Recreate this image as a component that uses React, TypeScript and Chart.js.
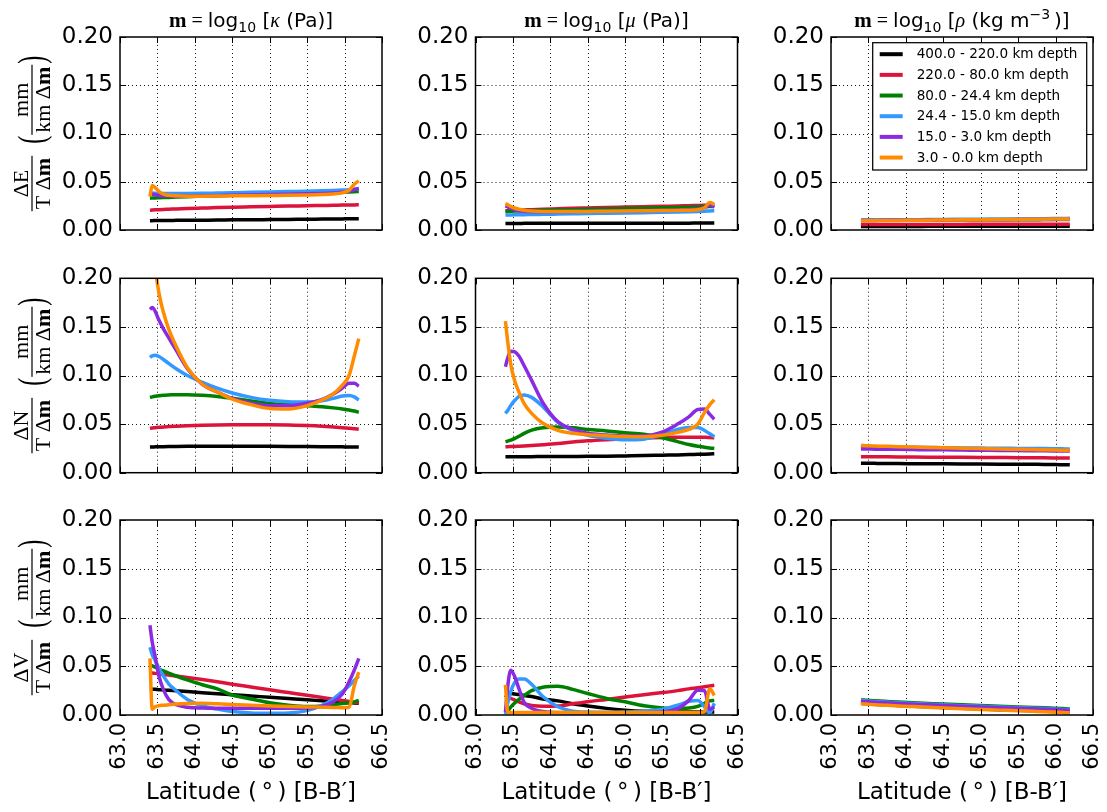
import React, { useEffect, useRef } from "react";
import { Chart, registerables } from "chart.js";
Chart.register(...registerables);

// ---------------- data ----------------
const LAT = [63.40, 63.43, 63.47, 63.52, 63.58, 63.65, 63.75, 63.90, 64.10, 64.30, 64.50, 64.75, 65.00, 65.25, 65.50, 65.70, 65.85, 65.97, 66.06, 66.13, 66.19];

const DEPTHS = [400.0, 220.0, 80.0, 24.4, 15.0, 3.0, 0.0];
const LEGEND_LABELS = DEPTHS.slice(0, -1).map((d, i) => `${d.toFixed(1)} - ${DEPTHS[i + 1].toFixed(1)} km depth`);
const COLORS = ["#000000", "#dc143c", "#008000", "#3399ff", "#8a2be2", "#ff8c00"];

const X_TICK_MIN = 63.0;
const X_TICK_MAX = 66.5;
const X_TICK_STEP = 0.5;
const Y_TICK_MIN = 0.0;
const Y_TICK_MAX = 0.2;
const Y_TICK_STEP = 0.05;

const COMPONENT_LETTERS = ["E", "N", "V"];
const PARAM_SYMBOLS = ["κ", "μ", "ρ"];

// rows: black, red, green, blue, purple, orange
const DE_KAPPA = [
  [0.0097, 0.0097, 0.0098, 0.0098, 0.0099, 0.0099, 0.0100, 0.0101, 0.0102, 0.0103, 0.0105, 0.0106, 0.0108, 0.0110, 0.0111, 0.0113, 0.0114, 0.0115, 0.0116, 0.0116, 0.0117],
  [0.0205, 0.0207, 0.0209, 0.0211, 0.0213, 0.0215, 0.0218, 0.0222, 0.0227, 0.0232, 0.0236, 0.0240, 0.0244, 0.0248, 0.0251, 0.0254, 0.0256, 0.0258, 0.0259, 0.0260, 0.0261],
  [0.0330, 0.0331, 0.0332, 0.0334, 0.0336, 0.0338, 0.0341, 0.0345, 0.0350, 0.0355, 0.0360, 0.0365, 0.0370, 0.0375, 0.0380, 0.0384, 0.0388, 0.0391, 0.0394, 0.0397, 0.0400],
  [0.0385, 0.0383, 0.0380, 0.0378, 0.0377, 0.0377, 0.0377, 0.0378, 0.0380, 0.0383, 0.0386, 0.0390, 0.0394, 0.0398, 0.0402, 0.0406, 0.0410, 0.0414, 0.0418, 0.0424, 0.0430],
  [0.0360, 0.0372, 0.0366, 0.0358, 0.0354, 0.0352, 0.0351, 0.0351, 0.0353, 0.0356, 0.0359, 0.0363, 0.0367, 0.0371, 0.0375, 0.0379, 0.0384, 0.0391, 0.0402, 0.0418, 0.0430],
  [0.0345, 0.0460, 0.0440, 0.0400, 0.0372, 0.0360, 0.0354, 0.0351, 0.0351, 0.0352, 0.0354, 0.0356, 0.0358, 0.0360, 0.0363, 0.0367, 0.0373, 0.0385, 0.0412, 0.0475, 0.0510],
];
const DE_MU = [
  [0.0068, 0.0068, 0.0068, 0.0068, 0.0068, 0.0069, 0.0069, 0.0069, 0.0069, 0.0070, 0.0070, 0.0070, 0.0070, 0.0071, 0.0071, 0.0071, 0.0071, 0.0072, 0.0072, 0.0072, 0.0072],
  [0.0200, 0.0201, 0.0202, 0.0204, 0.0206, 0.0208, 0.0211, 0.0215, 0.0220, 0.0225, 0.0229, 0.0234, 0.0238, 0.0242, 0.0246, 0.0249, 0.0252, 0.0254, 0.0256, 0.0258, 0.0260],
  [0.0190, 0.0192, 0.0194, 0.0196, 0.0198, 0.0200, 0.0202, 0.0205, 0.0208, 0.0211, 0.0214, 0.0218, 0.0222, 0.0226, 0.0230, 0.0233, 0.0236, 0.0239, 0.0241, 0.0243, 0.0245],
  [0.0155, 0.0155, 0.0156, 0.0157, 0.0158, 0.0159, 0.0160, 0.0162, 0.0165, 0.0168, 0.0171, 0.0174, 0.0177, 0.0180, 0.0183, 0.0186, 0.0189, 0.0192, 0.0195, 0.0198, 0.0200],
  [0.0250, 0.0240, 0.0226, 0.0212, 0.0202, 0.0195, 0.0191, 0.0190, 0.0191, 0.0193, 0.0195, 0.0198, 0.0200, 0.0202, 0.0205, 0.0208, 0.0212, 0.0218, 0.0232, 0.0258, 0.0240],
  [0.0275, 0.0262, 0.0245, 0.0228, 0.0215, 0.0205, 0.0197, 0.0192, 0.0191, 0.0192, 0.0193, 0.0195, 0.0197, 0.0199, 0.0201, 0.0203, 0.0205, 0.0210, 0.0232, 0.0285, 0.0265],
];
const DE_RHO = [
  [0.0036, 0.0036, 0.0036, 0.0036, 0.0036, 0.0037, 0.0037, 0.0037, 0.0037, 0.0038, 0.0038, 0.0038, 0.0038, 0.0039, 0.0039, 0.0039, 0.0039, 0.0040, 0.0040, 0.0040, 0.0040],
  [0.0056, 0.0056, 0.0056, 0.0056, 0.0057, 0.0057, 0.0057, 0.0057, 0.0058, 0.0058, 0.0058, 0.0058, 0.0059, 0.0059, 0.0059, 0.0059, 0.0060, 0.0060, 0.0060, 0.0060, 0.0060],
  [0.0100, 0.0100, 0.0100, 0.0101, 0.0101, 0.0101, 0.0102, 0.0102, 0.0103, 0.0103, 0.0104, 0.0105, 0.0105, 0.0106, 0.0107, 0.0107, 0.0108, 0.0108, 0.0109, 0.0109, 0.0110],
  [0.0102, 0.0102, 0.0103, 0.0103, 0.0104, 0.0104, 0.0105, 0.0106, 0.0107, 0.0108, 0.0110, 0.0111, 0.0112, 0.0114, 0.0115, 0.0116, 0.0117, 0.0118, 0.0119, 0.0120, 0.0121],
  [0.0098, 0.0098, 0.0098, 0.0099, 0.0099, 0.0100, 0.0100, 0.0101, 0.0102, 0.0103, 0.0104, 0.0105, 0.0106, 0.0107, 0.0108, 0.0109, 0.0110, 0.0110, 0.0111, 0.0111, 0.0112],
  [0.0095, 0.0095, 0.0096, 0.0096, 0.0097, 0.0098, 0.0098, 0.0099, 0.0101, 0.0102, 0.0104, 0.0105, 0.0107, 0.0108, 0.0110, 0.0111, 0.0112, 0.0113, 0.0114, 0.0114, 0.0115],
];
const DN_KAPPA = [
  [0.0265, 0.0265, 0.0266, 0.0267, 0.0268, 0.0269, 0.0270, 0.0271, 0.0272, 0.0272, 0.0272, 0.0272, 0.0271, 0.0270, 0.0269, 0.0268, 0.0267, 0.0266, 0.0265, 0.0265, 0.0264],
  [0.0457, 0.0460, 0.0463, 0.0467, 0.0471, 0.0474, 0.0478, 0.0483, 0.0488, 0.0491, 0.0493, 0.0494, 0.0493, 0.0490, 0.0485, 0.0478, 0.0470, 0.0463, 0.0457, 0.0452, 0.0448],
  [0.0775, 0.0780, 0.0786, 0.0792, 0.0797, 0.0800, 0.0803, 0.0803, 0.0797, 0.0785, 0.0765, 0.0738, 0.0712, 0.0700, 0.0688, 0.0678, 0.0667, 0.0656, 0.0645, 0.0635, 0.0622],
  [0.1187, 0.1203, 0.1208, 0.1195, 0.1165, 0.1125, 0.1070, 0.1000, 0.0930, 0.0870, 0.0820, 0.0775, 0.0745, 0.0730, 0.0727, 0.0740, 0.0765, 0.0790, 0.0795, 0.0780, 0.0748],
  [0.1680, 0.1700, 0.1660, 0.1570, 0.1480, 0.1390, 0.1260, 0.1070, 0.0910, 0.0830, 0.0765, 0.0715, 0.0690, 0.0690, 0.0715, 0.0755, 0.0810, 0.0870, 0.0920, 0.0920, 0.0890],
  [0.3000, 0.2500, 0.2120, 0.1850, 0.1650, 0.1480, 0.1300, 0.1080, 0.0910, 0.0830, 0.0758, 0.0700, 0.0660, 0.0655, 0.0690, 0.0750, 0.0810, 0.0900, 0.1000, 0.1200, 0.1380],
];
const DN_MU = [
  [0.0165, 0.0165, 0.0165, 0.0165, 0.0165, 0.0165, 0.0165, 0.0166, 0.0166, 0.0167, 0.0168, 0.0170, 0.0173, 0.0176, 0.0180, 0.0183, 0.0186, 0.0189, 0.0191, 0.0193, 0.0195],
  [0.0268, 0.0268, 0.0269, 0.0270, 0.0272, 0.0275, 0.0280, 0.0288, 0.0300, 0.0315, 0.0328, 0.0340, 0.0350, 0.0357, 0.0362, 0.0364, 0.0365, 0.0365, 0.0364, 0.0362, 0.0360],
  [0.0320, 0.0325, 0.0335, 0.0350, 0.0375, 0.0405, 0.0438, 0.0462, 0.0470, 0.0462, 0.0445, 0.0430, 0.0412, 0.0395, 0.0360, 0.0320, 0.0290, 0.0272, 0.0262, 0.0255, 0.0250],
  [0.0610, 0.0640, 0.0690, 0.0740, 0.0785, 0.0800, 0.0775, 0.0680, 0.0520, 0.0435, 0.0385, 0.0355, 0.0338, 0.0345, 0.0395, 0.0445, 0.0465, 0.0465, 0.0435, 0.0400, 0.0370],
  [0.1090, 0.1180, 0.1250, 0.1245, 0.1200, 0.1100, 0.0950, 0.0720, 0.0525, 0.0445, 0.0405, 0.0388, 0.0378, 0.0380, 0.0420, 0.0500, 0.0575, 0.0650, 0.0655, 0.0600, 0.0550],
  [0.1560, 0.1350, 0.1120, 0.0954, 0.0830, 0.0710, 0.0610, 0.0508, 0.0435, 0.0405, 0.0390, 0.0380, 0.0372, 0.0370, 0.0385, 0.0415, 0.0445, 0.0500, 0.0620, 0.0700, 0.0750],
];
const DN_RHO = [
  [0.0097, 0.0097, 0.0096, 0.0096, 0.0096, 0.0095, 0.0095, 0.0094, 0.0093, 0.0092, 0.0091, 0.0090, 0.0089, 0.0088, 0.0087, 0.0086, 0.0085, 0.0084, 0.0083, 0.0083, 0.0082],
  [0.0165, 0.0165, 0.0165, 0.0164, 0.0164, 0.0164, 0.0163, 0.0162, 0.0161, 0.0160, 0.0159, 0.0158, 0.0157, 0.0156, 0.0155, 0.0154, 0.0153, 0.0152, 0.0151, 0.0151, 0.0150],
  [0.0260, 0.0260, 0.0259, 0.0258, 0.0257, 0.0256, 0.0255, 0.0253, 0.0251, 0.0249, 0.0247, 0.0245, 0.0243, 0.0241, 0.0239, 0.0237, 0.0236, 0.0234, 0.0233, 0.0232, 0.0232],
  [0.0268, 0.0268, 0.0267, 0.0267, 0.0266, 0.0265, 0.0264, 0.0263, 0.0261, 0.0259, 0.0257, 0.0255, 0.0253, 0.0251, 0.0250, 0.0249, 0.0248, 0.0247, 0.0246, 0.0245, 0.0245],
  [0.0245, 0.0245, 0.0244, 0.0243, 0.0242, 0.0242, 0.0241, 0.0240, 0.0238, 0.0236, 0.0235, 0.0233, 0.0231, 0.0229, 0.0228, 0.0226, 0.0225, 0.0224, 0.0223, 0.0222, 0.0222],
  [0.0280, 0.0279, 0.0278, 0.0277, 0.0275, 0.0273, 0.0271, 0.0268, 0.0264, 0.0260, 0.0256, 0.0252, 0.0248, 0.0244, 0.0241, 0.0238, 0.0236, 0.0234, 0.0232, 0.0231, 0.0230],
];
const DV_KAPPA = [
  [0.0267, 0.0265, 0.0263, 0.0260, 0.0257, 0.0253, 0.0248, 0.0240, 0.0229, 0.0219, 0.0208, 0.0195, 0.0182, 0.0169, 0.0156, 0.0145, 0.0137, 0.0131, 0.0126, 0.0123, 0.0120],
  [0.0434, 0.0431, 0.0427, 0.0422, 0.0416, 0.0409, 0.0399, 0.0384, 0.0363, 0.0340, 0.0316, 0.0287, 0.0258, 0.0230, 0.0202, 0.0180, 0.0163, 0.0149, 0.0138, 0.0129, 0.0122],
  [0.0515, 0.0505, 0.0490, 0.0472, 0.0452, 0.0430, 0.0400, 0.0360, 0.0310, 0.0268, 0.0205, 0.0165, 0.0125, 0.0100, 0.0086, 0.0092, 0.0108, 0.0118, 0.0125, 0.0135, 0.0150],
  [0.0694, 0.0620, 0.0560, 0.0480, 0.0400, 0.0320, 0.0250, 0.0160, 0.0095, 0.0060, 0.0035, 0.0020, 0.0017, 0.0020, 0.0045, 0.0100, 0.0165, 0.0240, 0.0300, 0.0355, 0.0400],
  [0.0920, 0.0750, 0.0600, 0.0400, 0.0260, 0.0160, 0.0105, 0.0080, 0.0072, 0.0070, 0.0070, 0.0070, 0.0070, 0.0070, 0.0072, 0.0090, 0.0135, 0.0215, 0.0340, 0.0460, 0.0580],
  [0.0580, 0.0060, 0.0085, 0.0095, 0.0100, 0.0105, 0.0112, 0.0118, 0.0120, 0.0115, 0.0108, 0.0100, 0.0092, 0.0086, 0.0082, 0.0080, 0.0078, 0.0075, 0.0080, 0.0300, 0.0440],
];
const DV_MU = [
  [0.0180, 0.0210, 0.0220, 0.0215, 0.0210, 0.0200, 0.0190, 0.0165, 0.0145, 0.0115, 0.0092, 0.0068, 0.0050, 0.0038, 0.0032, 0.0030, 0.0030, 0.0030, 0.0030, 0.0030, 0.0030],
  [0.0190, 0.0180, 0.0170, 0.0155, 0.0135, 0.0115, 0.0098, 0.0090, 0.0092, 0.0115, 0.0137, 0.0160, 0.0185, 0.0208, 0.0230, 0.0250, 0.0268, 0.0280, 0.0290, 0.0298, 0.0305],
  [0.0020, 0.0040, 0.0080, 0.0120, 0.0160, 0.0200, 0.0250, 0.0285, 0.0295, 0.0263, 0.0220, 0.0170, 0.0135, 0.0095, 0.0072, 0.0068, 0.0072, 0.0088, 0.0120, 0.0145, 0.0150],
  [0.0010, 0.0120, 0.0240, 0.0330, 0.0370, 0.0370, 0.0315, 0.0190, 0.0085, 0.0040, 0.0030, 0.0028, 0.0030, 0.0038, 0.0060, 0.0100, 0.0140, 0.0150, 0.0085, 0.0020, 0.0120],
  [0.0030, 0.0290, 0.0460, 0.0400, 0.0270, 0.0130, 0.0070, 0.0035, 0.0025, 0.0022, 0.0022, 0.0022, 0.0022, 0.0024, 0.0030, 0.0065, 0.0150, 0.0255, 0.0250, 0.0060, 0.0080],
  [0.0310, 0.0026, 0.0025, 0.0025, 0.0025, 0.0025, 0.0025, 0.0025, 0.0025, 0.0025, 0.0025, 0.0025, 0.0025, 0.0025, 0.0025, 0.0025, 0.0025, 0.0025, 0.0035, 0.0270, 0.0200],
];
const DV_RHO = [
  [0.0120, 0.0119, 0.0117, 0.0114, 0.0111, 0.0108, 0.0104, 0.0098, 0.0091, 0.0084, 0.0077, 0.0069, 0.0062, 0.0055, 0.0048, 0.0043, 0.0039, 0.0036, 0.0033, 0.0031, 0.0030],
  [0.0128, 0.0127, 0.0125, 0.0122, 0.0119, 0.0116, 0.0112, 0.0106, 0.0099, 0.0092, 0.0085, 0.0077, 0.0070, 0.0063, 0.0056, 0.0051, 0.0047, 0.0044, 0.0041, 0.0039, 0.0038],
  [0.0155, 0.0154, 0.0152, 0.0149, 0.0146, 0.0143, 0.0139, 0.0133, 0.0126, 0.0119, 0.0112, 0.0104, 0.0097, 0.0090, 0.0083, 0.0078, 0.0074, 0.0070, 0.0067, 0.0064, 0.0062],
  [0.0147, 0.0146, 0.0144, 0.0141, 0.0138, 0.0135, 0.0131, 0.0125, 0.0118, 0.0111, 0.0104, 0.0096, 0.0089, 0.0082, 0.0075, 0.0070, 0.0066, 0.0062, 0.0059, 0.0056, 0.0054],
  [0.0140, 0.0139, 0.0137, 0.0134, 0.0131, 0.0128, 0.0124, 0.0118, 0.0111, 0.0104, 0.0097, 0.0089, 0.0082, 0.0075, 0.0068, 0.0063, 0.0059, 0.0056, 0.0053, 0.0051, 0.0049],
  [0.0115, 0.0114, 0.0112, 0.0109, 0.0106, 0.0103, 0.0099, 0.0093, 0.0086, 0.0079, 0.0072, 0.0064, 0.0057, 0.0050, 0.0043, 0.0038, 0.0034, 0.0030, 0.0027, 0.0024, 0.0022],
];

const PANEL_DATA = [
  [DE_KAPPA, DE_MU, DE_RHO],
  [DN_KAPPA, DN_MU, DN_RHO],
  [DV_KAPPA, DV_MU, DV_RHO],
];

// ---------------- layout ----------------
const PAGE_W = 1107;
const PAGE_H = 812;
const CANVAS_W = 1220;
const CANVAS_H = 900;
const COL_LEFT = [120, 475.5, 831];
const PLOT_W = 262;
const ROW_TOP = [37, 278.3, 520];
const ROW_BOTTOM = [230, 472.7, 715];
const Y_AXIS_W = 100;
const X_AXIS_H = 92;

const SANS = "'DejaVu Sans', sans-serif";
const SERIF = "'Liberation Serif', 'DejaVu Serif', serif";
const Y_TICK_FONT_SIZE = 23;
const X_TICK_FONT_SIZE = 21;

type Seg = { t: string; f: string; dy?: number };

function segsWidth(ctx: CanvasRenderingContext2D, segs: Seg[]) {
  let w = 0;
  for (const s of segs) {
    ctx.font = s.f;
    w += ctx.measureText(s.t).width;
  }
  return w;
}

function drawSegs(ctx: CanvasRenderingContext2D, segs: Seg[], x: number, baseline: number) {
  ctx.textAlign = "left";
  ctx.textBaseline = "alphabetic";
  for (const s of segs) {
    ctx.font = s.f;
    ctx.fillText(s.t, x, baseline + (s.dy || 0));
    x += ctx.measureText(s.t).width;
  }
}

function titleSegs(col: number): Seg[] {
  const sans = `20px ${SANS}`;
  const segs: Seg[] = [
    { t: "m", f: `bold 21px ${SERIF}` },
    { t: " = ", f: `20px ${SERIF}` },
    { t: "log", f: sans },
    { t: "10", f: `14px ${SANS}`, dy: 5 },
    { t: " [", f: sans },
    { t: PARAM_SYMBOLS[col], f: `italic 20px ${SERIF}` },
  ];
  if (col === 2) {
    segs.push({ t: " (kg m", f: sans });
    segs.push({ t: "−3", f: `14px ${SANS}`, dy: -8 });
    segs.push({ t: "\u2009)]", f: sans });
  } else {
    segs.push({ t: " (Pa)]", f: sans });
  }
  return segs;
}

function drawParen(ctx: CanvasRenderingContext2D, ch: string, x: number) {
  ctx.save();
  ctx.font = `24px ${SERIF}`;
  ctx.textBaseline = "middle";
  ctx.textAlign = "left";
  ctx.translate(x, 2);
  ctx.scale(1, 1.55);
  ctx.fillText(ch, 0, 0);
  ctx.restore();
}

function drawYLabel(ctx: CanvasRenderingContext2D, cx: number, cy: number, letter: string) {
  const fs = 22;
  const reg = `${fs}px ${SERIF}`;
  const bold = `bold ${fs}px ${SERIF}`;
  const num1: Seg[] = [{ t: "Δ" + letter, f: reg }];
  const den1: Seg[] = [{ t: "T Δ", f: reg }, { t: "m", f: bold }];
  const num2: Seg[] = [{ t: "mm", f: reg }];
  const den2: Seg[] = [{ t: "km Δ", f: reg }, { t: "m", f: bold }];
  ctx.save();
  ctx.translate(cx, cy);
  ctx.rotate(-Math.PI / 2);
  ctx.fillStyle = "#000";
  const f1 = Math.max(segsWidth(ctx, num1), segsWidth(ctx, den1)) + 4;
  const f2 = Math.max(segsWidth(ctx, num2), segsWidth(ctx, den2)) + 4;
  ctx.font = `24px ${SERIF}`;
  const pw = ctx.measureText("(").width + 1;
  const gap = 12;
  const total = f1 + gap + pw + f2 + pw;
  let x = -total / 2;
  const drawFrac = (num: Seg[], den: Seg[], w: number) => {
    ctx.fillRect(x, -0.6, w, 1.2);
    drawSegs(ctx, num, x + (w - segsWidth(ctx, num)) / 2, -4);
    drawSegs(ctx, den, x + (w - segsWidth(ctx, den)) / 2, 18);
    x += w;
  };
  drawFrac(num1, den1, f1);
  x += gap;
  drawParen(ctx, "(", x);
  x += pw;
  drawFrac(num2, den2, f2);
  drawParen(ctx, ")", x + 1);
  ctx.restore();
}

function drawLegend(ctx: CanvasRenderingContext2D, a: { left: number; top: number; right: number }) {
  const bx = a.left + 41.7;
  const by = a.top + 5.7;
  const bw = a.right - 6.3 - bx;
  const bh = 127.3;
  ctx.save();
  ctx.fillStyle = "#fff";
  ctx.fillRect(bx, by, bw, bh);
  ctx.strokeStyle = "#000";
  ctx.lineWidth = 1.25;
  ctx.setLineDash([]);
  ctx.strokeRect(bx, by, bw, bh);
  ctx.font = `13.6px ${SANS}`;
  ctx.textAlign = "left";
  ctx.textBaseline = "middle";
  LEGEND_LABELS.forEach((lab, i) => {
    const yy = by + 11.5 + i * 20.67;
    ctx.strokeStyle = COLORS[i];
    ctx.lineWidth = 4;
    ctx.beginPath();
    ctx.moveTo(bx + 7, yy);
    ctx.lineTo(bx + 30, yy);
    ctx.stroke();
    ctx.fillStyle = "#000";
    ctx.fillText(lab, bx + 44, yy + 0.5);
  });
  ctx.restore();
}

function decorPlugin(row: number, col: number) {
  return {
    id: "decor",
    beforeDatasetsDraw(chart: any) {
      const { ctx, chartArea: a, scales } = chart;
      const xs = scales.x;
      const ys = scales.y;
      ctx.save();
      ctx.strokeStyle = "rgba(0,0,0,0.9)";
      ctx.lineWidth = 1;
      ctx.setLineDash([1, 3]);
      xs.ticks.forEach((t: any) => {
        const px = Math.round(xs.getPixelForValue(t.value)) + 0.5;
        if (px < a.left + 2 || px > a.right - 2) return;
        ctx.beginPath();
        ctx.moveTo(px, a.bottom);
        ctx.lineTo(px, a.top);
        ctx.stroke();
      });
      ys.ticks.forEach((t: any) => {
        const py = Math.round(ys.getPixelForValue(t.value)) + 0.5;
        if (py < a.top + 2 || py > a.bottom - 2) return;
        ctx.beginPath();
        ctx.moveTo(a.left, py);
        ctx.lineTo(a.right, py);
        ctx.stroke();
      });
      ctx.restore();
    },
    afterDatasetsDraw(chart: any) {
      const { ctx, chartArea: a, scales } = chart;
      const xs = scales.x;
      const ys = scales.y;
      const tl = 6;
      ctx.save();
      ctx.setLineDash([]);
      ctx.strokeStyle = "#000";
      ctx.lineWidth = 1;
      xs.ticks.forEach((t: any) => {
        const px = Math.round(xs.getPixelForValue(t.value)) + 0.5;
        ctx.beginPath();
        ctx.moveTo(px, a.bottom);
        ctx.lineTo(px, a.bottom - tl);
        ctx.moveTo(px, a.top);
        ctx.lineTo(px, a.top + tl);
        ctx.stroke();
      });
      ys.ticks.forEach((t: any) => {
        const py = Math.round(ys.getPixelForValue(t.value)) + 0.5;
        ctx.beginPath();
        ctx.moveTo(a.left, py);
        ctx.lineTo(a.left + tl, py);
        ctx.moveTo(a.right, py);
        ctx.lineTo(a.right - tl, py);
        ctx.stroke();
      });
      ctx.lineWidth = 1.5;
      ctx.strokeRect(a.left, a.top, a.right - a.left, a.bottom - a.top);
      ctx.fillStyle = "#000";
      if (row === 0) {
        const segs = titleSegs(col);
        const w = segsWidth(ctx, segs);
        drawSegs(ctx, segs, (a.left + a.right) / 2 - w / 2, 27);
      }
      if (col === 0) {
        drawYLabel(ctx, 32, (a.top + a.bottom) / 2, COMPONENT_LETTERS[row]);
      }
      if (row === 0 && col === 2) {
        drawLegend(ctx, a);
      }
      ctx.restore();
    },
  };
}

function makeConfig(row: number, col: number): any {
  const left = COL_LEFT[col];
  const right = left + PLOT_W;
  const top = ROW_TOP[row];
  const bottom = ROW_BOTTOM[row];
  const isBottom = row === 2;
  const xh = isBottom ? X_AXIS_H : 0;
  const values = PANEL_DATA[row][col];
  return {
    type: "line",
    data: {
      datasets: values.map((vals: number[], i: number) => ({
        label: LEGEND_LABELS[i],
        data: LAT.map((x, k) => ({ x, y: vals[k] })),
        borderColor: COLORS[i],
        backgroundColor: COLORS[i],
        borderWidth: 3.5,
        pointRadius: 0,
        pointHoverRadius: 0,
        fill: false,
        cubicInterpolationMode: "monotone",
        order: values.length - 1 - i,
        clip: 0,
      })),
    },
    options: {
      responsive: false,
      animation: false,
      events: [],
      layout: {
        padding: {
          left: left - Y_AXIS_W,
          top: top,
          right: CANVAS_W - right,
          bottom: CANVAS_H - bottom - xh,
        },
      },
      scales: {
        x: {
          type: "linear",
          position: "bottom",
          min: X_TICK_MIN,
          max: X_TICK_MAX,
          grid: { display: false, drawTicks: false },
          border: { display: false },
          ticks: {
            display: isBottom,
            stepSize: X_TICK_STEP,
            autoSkip: false,
            minRotation: 90,
            maxRotation: 90,
            padding: 8,
            color: "#000",
            font: { family: SANS, size: X_TICK_FONT_SIZE },
            callback: (v: any) => Number(v).toFixed(1),
          },
          title: {
            display: isBottom,
            text: "Latitude (\u2009°\u2009) [B-B′]",
            color: "#000",
            font: { family: SANS, size: 23 },
            padding: 0,
          },
          afterFit: (s: any) => {
            s.height = xh;
          },
        },
        y: {
          type: "linear",
          min: Y_TICK_MIN,
          max: Y_TICK_MAX,
          grid: { display: false, drawTicks: false },
          border: { display: false },
          ticks: {
            stepSize: Y_TICK_STEP,
            padding: 7,
            color: "#000",
            font: { family: SANS, size: Y_TICK_FONT_SIZE },
            callback: (v: any) => Number(v).toFixed(2),
          },
          afterFit: (s: any) => {
            s.width = Y_AXIS_W;
          },
        },
      },
      plugins: {
        legend: { display: false },
        tooltip: { enabled: false },
      },
    },
    plugins: [decorPlugin(row, col)],
  };
}

const PANELS = [0, 1, 2].flatMap((row) => [0, 1, 2].map((col) => ({ row, col })));

export default function App() {
  const refs = useRef<(HTMLCanvasElement | null)[]>([]);
  useEffect(() => {
    const charts = PANELS.map((p, i) => new Chart(refs.current[i] as HTMLCanvasElement, makeConfig(p.row, p.col)));
    return () => {
      charts.forEach((c) => c.destroy());
    };
  }, []);
  return (
    <div
      style={{
        position: "fixed",
        left: 0,
        top: 0,
        width: PAGE_W,
        height: PAGE_H,
        overflow: "hidden",
        background: "#fff",
      }}
    >
      {PANELS.map((p, i) => (
        <canvas
          key={i}
          ref={(el) => {
            refs.current[i] = el;
          }}
          width={CANVAS_W}
          height={CANVAS_H}
          style={{ position: "absolute", left: 0, top: 0, width: CANVAS_W, height: CANVAS_H }}
        />
      ))}
    </div>
  );
}
